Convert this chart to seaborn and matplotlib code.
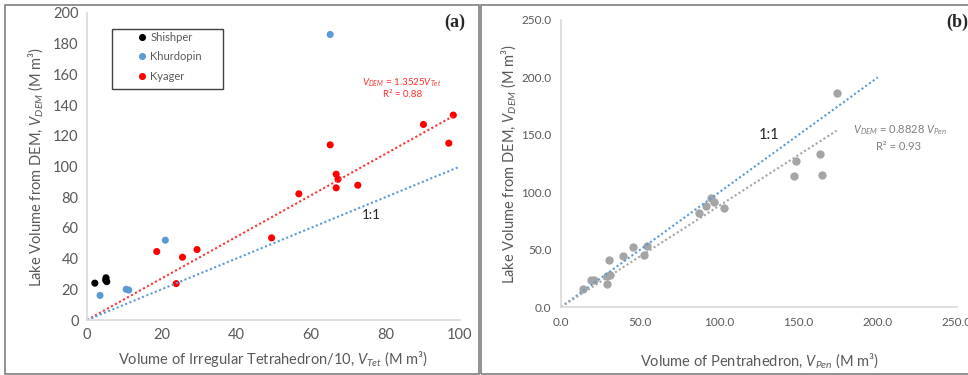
import numpy as np
import pandas as pd
import matplotlib
matplotlib.use('Agg')
import matplotlib.pyplot as plt
from matplotlib.patches import Rectangle
import seaborn as sns

# panel (a): V_Tet/10 vs V_DEM, by glacier
shishper_x = [2.1, 5.1, 5.3, 5.0]
shishper_y = [24.0, 27.5, 25.0, 26.0]
khurdopin_x = [3.5, 10.5, 11.2, 21.0, 65.2]
khurdopin_y = [16.0, 20.0, 19.5, 52.0, 186.0]
kyager_x = [18.7, 23.9, 25.6, 29.5, 49.5, 56.8, 65.2, 66.8, 67.3, 66.8, 72.6, 90.2, 97.0, 98.2]
kyager_y = [44.6, 23.7, 40.9, 45.9, 53.5, 82.2, 114.1, 95.0, 91.7, 86.1, 87.8, 127.4, 115.2, 133.5]
slope_a = 1.3525

# panel (b): V_Pen vs V_DEM
pen_x = [13.9, 19.0, 21.0, 28.9, 31.2, 29.1, 30.5, 39.4, 45.7, 52.4, 54.1,
         87.2, 91.6, 94.6, 96.9, 103.2, 146.8, 148.1, 163.2, 164.5, 174.0]
pen_y = [15.7, 23.8, 23.3, 27.3, 27.6, 19.8, 40.7, 44.5, 52.0, 45.6, 53.5,
         81.7, 88.1, 95.0, 91.6, 86.0, 114.0, 127.3, 133.7, 115.1, 186.3]
slope_b = 0.8828

sns.set_theme(style='white')
plt.rcParams['font.family'] = ['Lato', 'DejaVu Sans']
plt.rcParams['mathtext.fontset'] = 'custom'
plt.rcParams['mathtext.rm'] = 'Lato'
plt.rcParams['mathtext.it'] = 'Lato:italic'

txt = '#595959'
spine = '#d9d9d9'
W, H = 968, 375

fig = plt.figure(figsize=(W / 100, H / 100), dpi=100)
ax1 = fig.add_axes([87 / W, 1 - 320 / H, 373 / W, 307 / H])
ax2 = fig.add_axes([561 / W, 1 - 307 / H, 396 / W, 287 / H])

df_a = pd.DataFrame({
    'x': shishper_x + khurdopin_x + kyager_x,
    'y': shishper_y + khurdopin_y + kyager_y,
    'lake': ['Shishper'] * len(shishper_x) + ['Khurdopin'] * len(khurdopin_x) + ['Kyager'] * len(kyager_x),
})
pal = {'Shishper': 'black', 'Khurdopin': '#5b9bd5', 'Kyager': '#ff0000'}

# trend lines first so dots sit on top
xa = np.array([0, max(kyager_x)])
sns.lineplot(x=xa, y=slope_a * xa, ax=ax1, color='#ff3030', linestyle=(0, (1, 1.2)), linewidth=1.5)
sns.lineplot(x=[0, 100], y=[0, 100], ax=ax1, color='#5b9bd5', linestyle=(0, (1, 1.2)), linewidth=1.5)
sns.scatterplot(data=df_a, x='x', y='y', hue='lake', palette=pal, ax=ax1, s=26, linewidth=0, legend=True)

ax1.set_xlim(0, 100)
ax1.set_ylim(0, 200)
ax1.set_xticks(np.arange(0, 101, 20))
ax1.set_yticks(np.arange(0, 201, 20))
ax1.set_xlabel('Volume of Irregular Tetrahedron/10, $V_{Tet}$ (M m³)', fontsize=10.5, color=txt, labelpad=5)
ax1.set_ylabel('Lake Volume from DEM, $V_{DEM}$ (M m³)', fontsize=10.5, color=txt, labelpad=6)
ax1.tick_params(labelsize=10.5, pad=6)

handles, labels = ax1.get_legend_handles_labels()
ax1.legend(handles, labels, loc='upper left', bbox_to_anchor=(138 / W, 1 - 32 / H),
           bbox_transform=fig.transFigure, frameon=False, fontsize=8, labelcolor=txt,
           handlelength=0.8, handletextpad=0.3, borderpad=0, borderaxespad=0, labelspacing=0.75)
fig.add_artist(Rectangle((112 / W, 1 - 89 / H), 111 / W, 60 / H, transform=fig.transFigure,
                         fill=False, ec='#404040', lw=1))

ax1.text(98.5, 194, '(a)', fontsize=13, fontweight='bold', family='Liberation Serif', ha='center', va='center')
ax1.text(84.5, 154.4, '$V_{DEM}$ = 1.3525$V_{Tet}$', fontsize=7, color='#ff3030', ha='center', va='center')
ax1.text(84.7, 147.2, 'R² = 0.88', fontsize=7, color='#ff3030', ha='center', va='center')
ax1.text(76.1, 68.4, '1:1', fontsize=9.5, color='#262626', ha='center', va='center')

# panel (b)
xb = np.array([0, max(pen_x)])
sns.lineplot(x=[0, 200], y=[0, 200], ax=ax2, color='#5b9bd5', linestyle=(0, (1, 1.2)), linewidth=1.5)
sns.lineplot(x=xb, y=slope_b * xb, ax=ax2, color='#a5a5a5', linestyle=(0, (1, 1.2)), linewidth=1.5)
sns.scatterplot(x=pen_x, y=pen_y, ax=ax2, color='#a5a5a5', s=36, linewidth=0)

ax2.set_xlim(0, 250)
ax2.set_ylim(0, 250)
ax2.set_xticks(np.arange(0, 251, 50))
ax2.set_yticks(np.arange(0, 251, 50))
ax2.xaxis.set_major_formatter(matplotlib.ticker.FormatStrFormatter('%.1f'))
ax2.yaxis.set_major_formatter(matplotlib.ticker.FormatStrFormatter('%.1f'))
ax2.set_xlabel('Volume of Pentrahedron, $V_{Pen}$ (M m³)', fontsize=10.5, color=txt, labelpad=17)
ax2.set_ylabel('Lake Volume from DEM, $V_{DEM}$ (M m³)', fontsize=10.5, color=txt, labelpad=2)
ax2.tick_params(labelsize=8.5, pad=7)

ax2.text(250, 248, '(b)', fontsize=13, fontweight='bold', family='Liberation Serif', ha='center', va='center', clip_on=False)
ax2.text(131.3, 149.8, '1:1', fontsize=10.5, color='#262626', ha='center', va='center')
ax2.text(214, 154, '$V_{DEM}$ = 0.8828 $V_{Pen}$', fontsize=8, color='#7f7f7f', ha='center', va='center')
ax2.text(212.8, 139.4, 'R² = 0.93', fontsize=8, color='#7f7f7f', ha='center', va='center')

for ax in (ax1, ax2):
    sns.despine(ax=ax)
    for s in ('left', 'bottom'):
        ax.spines[s].set_color(spine)
        ax.spines[s].set_linewidth(1.2)
    ax.tick_params(length=0, labelcolor=txt)

# panel frames
fig.add_artist(Rectangle((5 / W, 1 - 374 / H), 474 / W, 369 / H, transform=fig.transFigure,
                         fill=False, ec='#7f7f7f', lw=1.2))
fig.add_artist(Rectangle((481 / W, 1 - 374 / H), 490 / W, 369 / H, transform=fig.transFigure,
                         fill=False, ec='#7f7f7f', lw=1.2))

fig.savefig('out.png', dpi=100)
